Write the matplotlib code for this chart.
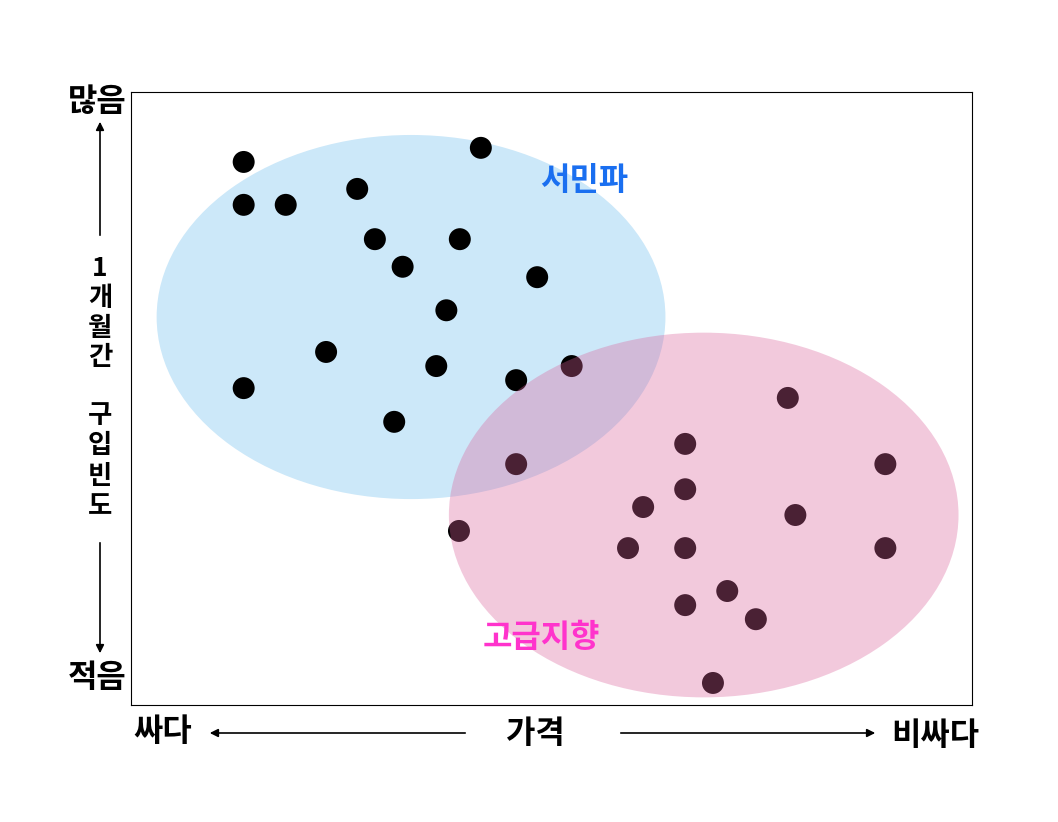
import matplotlib
matplotlib.use('Agg')
import matplotlib.pyplot as plt
from matplotlib.patches import Ellipse, FancyArrowPatch

plt.rcParams['font.family'] = ['Noto Sans CJK KR', 'DejaVu Sans']

# 고객 점 (가격, 구입빈도) - 0~10 척도
price = [1.34, 4.16, 2.69, 1.34, 1.84, 2.90, 3.91, 3.23, 4.83, 3.75,
         2.32, 3.63, 4.58, 5.24, 1.34, 3.13,
         4.58, 3.90, 6.59, 7.81, 8.97, 6.59, 6.09, 7.90, 5.91, 6.59,
         8.97, 7.09, 6.59, 7.43, 6.92]
freq = [8.86, 9.09, 8.42, 8.16, 8.16, 7.60, 7.60, 7.15, 6.98, 6.44,
        5.76, 5.53, 5.30, 5.53, 5.17, 4.62,
        3.93, 2.84, 4.26, 5.01, 3.93, 3.52, 3.23, 3.10, 2.56, 2.56,
        2.56, 1.86, 1.63, 1.40, 0.36]

# 그룹 영역 (중심 x, 중심 y, 폭, 높이)
group_names = ['서민파', '고급지향']
group_ellipses = [(3.33, 6.33, 6.05, 5.94), (6.81, 3.10, 6.06, 5.95)]
group_label_pos = [(5.385, 8.55), (4.875, 1.10)]

fig = plt.figure(figsize=(10.58, 8.22), dpi=100)
ax = fig.add_axes([0.1238, 0.1423, 0.7949, 0.7457])
ax.set_xlim(0, 10)
ax.set_ylim(0, 10)
ax.set_xticks([])
ax.set_yticks([])
for s in ax.spines.values():
    s.set_linewidth(0.8)

cx, cy, w, h = group_ellipses[0]
ax.add_patch(Ellipse((cx, cy), w, h, facecolor='#cce8f9', edgecolor='none', zorder=1))
ax.scatter(price, freq, s=250, color='black', edgecolors='none', zorder=2)
cx, cy, w, h = group_ellipses[1]
ax.add_patch(Ellipse((cx, cy), w, h, facecolor='#db619b', alpha=0.34,
                     edgecolor='none', zorder=3))

ax.text(*group_label_pos[0], group_names[0], color='#1a6ff0', fontsize=23,
        fontweight='bold', ha='center', va='center', zorder=4)
ax.text(*group_label_pos[1], group_names[1], color='#ff33cc', fontsize=23,
        fontweight='bold', ha='center', va='center', zorder=4)

# 축 설명 (figure 좌표)
def fx(px): return px / 1058
def fy(py): return 1 - py / 822

kw = dict(fontsize=23, fontweight='bold', ha='center', va='center')
fig.text(fx(97), fy(102), '많음', **kw)
fig.text(fx(97), fy(678), '적음', **kw)
for i, ch in enumerate(['1', '개', '월', '간']):
    fig.text(fx(100), fy(269 + i * 29.5), ch, fontsize=19, fontweight='bold',
             ha='center', va='center')
for i, ch in enumerate(['구', '입', '빈', '도']):
    fig.text(fx(100), fy(415 + i * 30.5), ch, fontsize=19, fontweight='bold',
             ha='center', va='center')
fig.text(fx(163), fy(732), '싸다', **kw)
fig.text(fx(535), fy(734), '가격', **kw)
fig.text(fx(935), fy(736), '비싸다', **kw)

arr = dict(arrowstyle='-|>', color='black', lw=1.2, mutation_scale=12,
           transform=fig.transFigure)
fig.add_artist(FancyArrowPatch((fx(100), fy(238)), (fx(100), fy(119)), **arr))
fig.add_artist(FancyArrowPatch((fx(100), fy(540)), (fx(100), fy(656)), **arr))
fig.add_artist(FancyArrowPatch((fx(468), fy(733)), (fx(207), fy(733)), **arr))
fig.add_artist(FancyArrowPatch((fx(618), fy(733)), (fx(878), fy(733)), **arr))

fig.savefig('out.png', dpi=100, facecolor='white')
